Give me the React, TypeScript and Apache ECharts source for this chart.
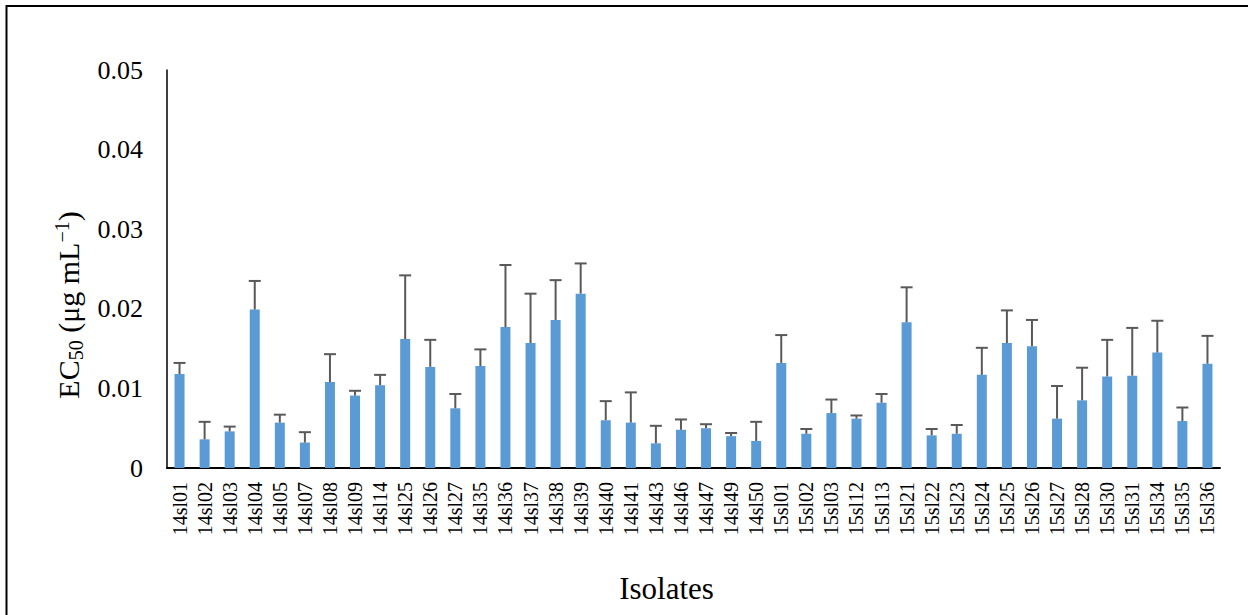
import React, { useEffect, useRef } from "react";
import * as echarts from "echarts";

// Fungal isolates tested
const categories = [
  "14sl01", "14sl02", "14sl03", "14sl04", "14sl05", "14sl07", "14sl08", "14sl09",
  "14sl14", "14sl25", "14sl26", "14sl27", "14sl35", "14sl36", "14sl37", "14sl38",
  "14sl39", "14sl40", "14sl41", "14sl43", "14sl46", "14sl47", "14sl49", "14sl50",
  "15sl01", "15sl02", "15sl03", "15sl12", "15sl13", "15sl21", "15sl22", "15sl23",
  "15sl24", "15sl25", "15sl26", "15sl27", "15sl28", "15sl30", "15sl31", "15sl34",
  "15sl35", "15sl36",
];

// Mean EC50 (µg/mL)
const ec50Mean = [
  0.0118, 0.0036, 0.0046, 0.0199, 0.0057, 0.0032, 0.0108, 0.0091,
  0.0104, 0.0162, 0.0127, 0.0075, 0.0128, 0.0177, 0.0157, 0.0186,
  0.0219, 0.0060, 0.0057, 0.0031, 0.0048, 0.0050, 0.0040, 0.0034,
  0.0132, 0.0043, 0.0069, 0.0062, 0.0082, 0.0183, 0.0041, 0.0043,
  0.0117, 0.0157, 0.0153, 0.0062, 0.0085, 0.0115, 0.0116, 0.0145,
  0.0059, 0.0131,
];

// Standard deviation (upper error bar)
const ec50Sd = [
  0.0014, 0.0022, 0.0006, 0.0036, 0.0010, 0.0013, 0.0035, 0.0006,
  0.0013, 0.0080, 0.0034, 0.0018, 0.0021, 0.0078, 0.0062, 0.0050,
  0.0038, 0.0024, 0.0038, 0.0022, 0.0013, 0.0005, 0.0004, 0.0024,
  0.0035, 0.0006, 0.0017, 0.0004, 0.0011, 0.0044, 0.0008, 0.0011,
  0.0034, 0.0041, 0.0033, 0.0041, 0.0041, 0.0046, 0.0060, 0.0040,
  0.0017, 0.0035,
];

const yMin = 0;
const yMax = 0.05;
const yStep = 0.01;

const SERIF = "Liberation Serif, Times New Roman, serif";
const BAR_COLOR = "#5B9BD5";
const ERR_COLOR = "#595959";

function measure(text: string, size: number): number {
  try {
    const ctx = document.createElement("canvas").getContext("2d");
    if (ctx) {
      ctx.font = `${size}px ${SERIF}`;
      return ctx.measureText(text).width;
    }
  } catch (e) {
    /* fall through */
  }
  return text.length * size * 0.5;
}

// Axis title "EC50 (µg mL−1)" with subscript and superscript, laid out along a rotated group
function buildYTitle() {
  const main = 30;
  const small = 20;
  const parts = [
    { text: "EC", size: main, dy: 0 },
    { text: "50", size: small, dy: 8 },
    { text: " (μg mL", size: main, dy: 0 },
    { text: "−1", size: small, dy: -6 },
    { text: ")", size: main, dy: 0 },
  ];
  const widths = parts.map((p) => measure(p.text, p.size));
  const total = widths.reduce((a, b) => a + b, 0);
  let x = -total / 2;
  const children = parts.map((p, i) => {
    const el = {
      type: "text",
      x,
      y: p.dy,
      style: {
        text: p.text,
        fontSize: p.size,
        fontFamily: SERIF,
        fill: "#000",
        align: "left",
        verticalAlign: "middle",
        textAlign: "left",
        textVerticalAlign: "middle",
      },
    };
    x += widths[i];
    return el;
  });
  return {
    type: "group",
    x: 68,
    y: 305,
    rotation: Math.PI / 2,
    children,
  };
}

export default function App() {
  const ref = useRef<HTMLDivElement>(null);

  useEffect(() => {
    if (!ref.current) return;
    const chart = echarts.init(ref.current, undefined, { renderer: "svg" });

    const errData = categories.map((_, i) => [i, ec50Mean[i], ec50Mean[i] + ec50Sd[i]]);

    chart.setOption({
      animation: false,
      backgroundColor: "#fff",
      grid: { left: 167, top: 70, right: 28, bottom: 147, containLabel: false },
      xAxis: {
        type: "category",
        data: categories,
        axisLine: { show: true, lineStyle: { color: "#000", width: 2 } },
        axisTick: { show: false },
        axisLabel: {
          interval: 0,
          rotate: 90,
          margin: 14,
          fontFamily: SERIF,
          fontSize: 20,
          color: "#000",
        },
        splitLine: { show: false },
      },
      yAxis: {
        type: "value",
        min: yMin,
        max: yMax,
        interval: yStep,
        axisLine: { show: true, lineStyle: { color: "#000", width: 1.5 } },
        axisTick: { show: false },
        splitLine: { show: false },
        axisLabel: {
          margin: 24,
          fontFamily: SERIF,
          fontSize: 26,
          color: "#000",
          formatter: (v: number) => (v === 0 ? "0" : v.toFixed(2)),
        },
      },
      series: [
        {
          type: "bar",
          data: ec50Mean,
          barWidth: 10,
          itemStyle: { color: BAR_COLOR },
          z: 2,
        },
        {
          type: "custom",
          data: errData,
          encode: { x: 0, y: [1, 2] },
          z: 3,
          renderItem: (params: any, api: any) => {
            const i = api.value(0);
            const base = api.coord([i, api.value(1)]);
            const top = api.coord([i, api.value(2)]);
            const half = 6;
            const style = { stroke: ERR_COLOR, lineWidth: 2 };
            return {
              type: "group",
              children: [
                { type: "line", shape: { x1: base[0], y1: base[1], x2: top[0], y2: top[1] }, style },
                { type: "line", shape: { x1: top[0] - half, y1: top[1], x2: top[0] + half, y2: top[1] }, style },
              ],
            };
          },
        },
      ],
      graphic: [
        {
          type: "rect",
          shape: { x: 6.5, y: 6, width: 1300, height: 700 },
          style: { fill: "none", stroke: "#000", lineWidth: 2 },
          silent: true,
        },
        buildYTitle(),
        {
          type: "text",
          x: 666.5,
          y: 588,
          style: {
            text: "Isolates",
            fontSize: 31,
            fontFamily: SERIF,
            fill: "#000",
            align: "center",
            verticalAlign: "middle",
            textAlign: "center",
            textVerticalAlign: "middle",
          },
        },
      ],
    });

    return () => chart.dispose();
  }, []);

  return (
    <div
      ref={ref}
      style={{ position: "absolute", left: 0, top: 0, width: 1248, height: 615 }}
    />
  );
}
